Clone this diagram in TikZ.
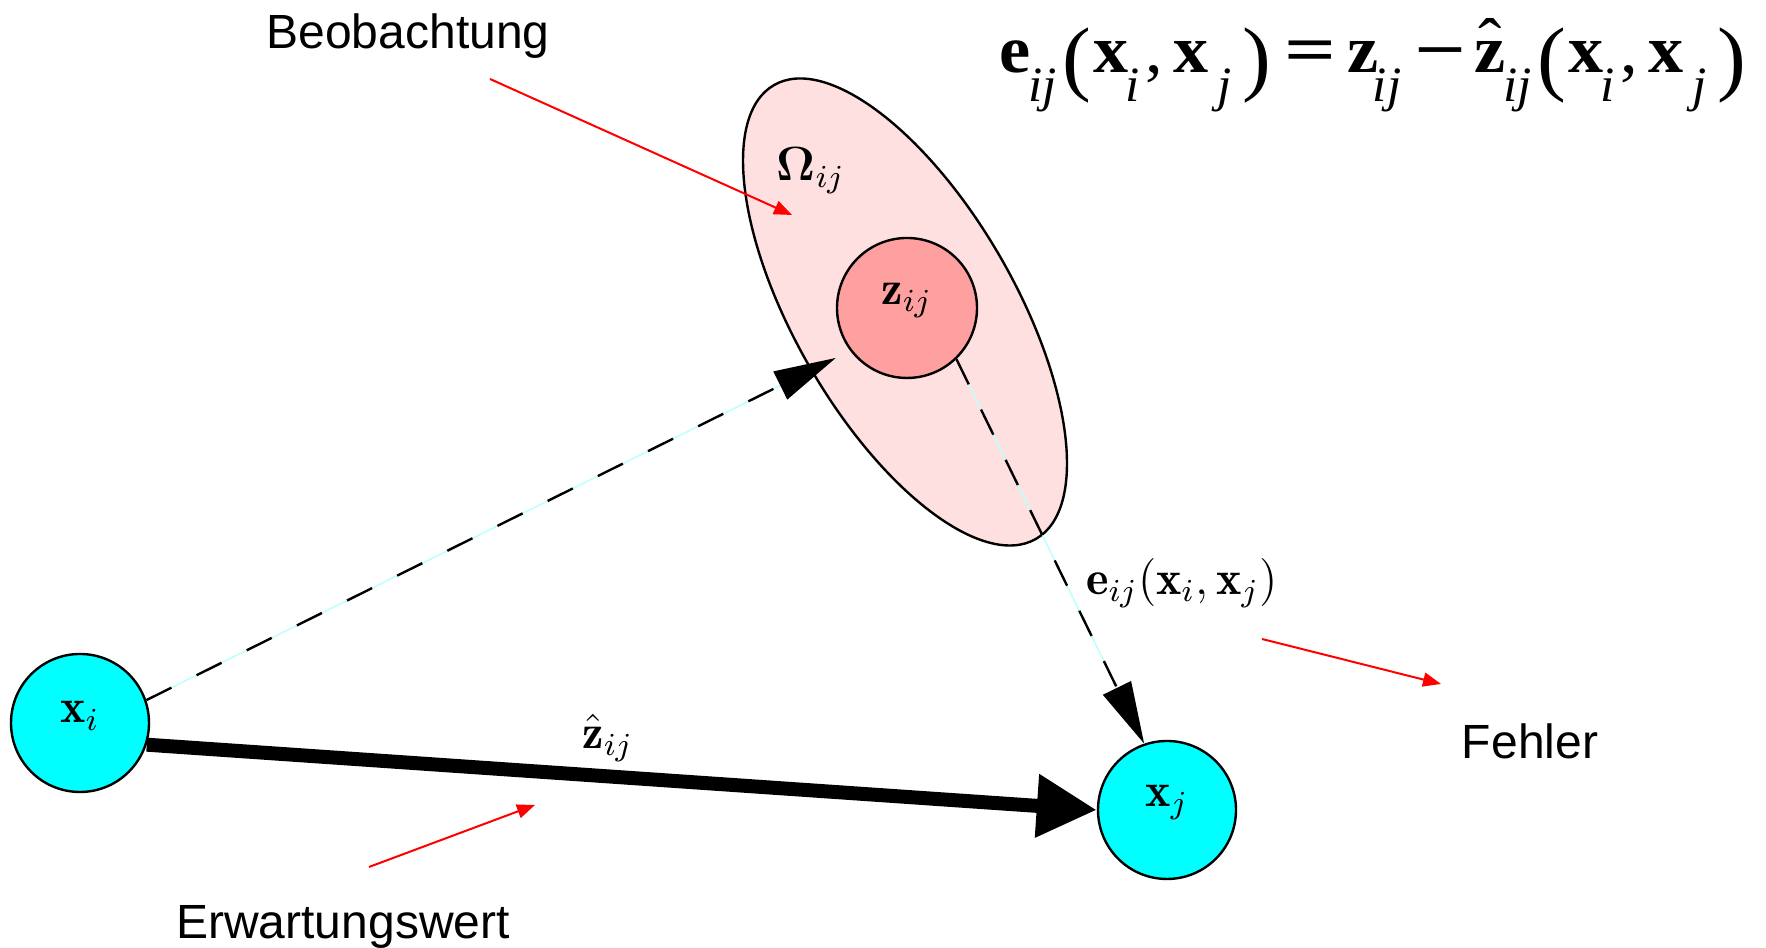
\documentclass[tikz,border=0pt]{standalone}
\usepackage{amsmath}
\usepackage{graphicx}
\usepackage{fontspec}
\usetikzlibrary{arrows.meta,shapes.geometric}
\newfontfamily\arialf{Liberation Sans}
\newfontfamily\timesf{Liberation Serif}
\definecolor{nodecyan}{RGB}{0,255,255}
\definecolor{obsred}{RGB}{255,160,160}
\definecolor{covpink}{RGB}{255,224,224}
\definecolor{lightcyan}{RGB}{190,255,255}
\newcommand{\fsub}[1]{\raisebox{-5.5pt}{\fontsize{9.5}{9.5}\selectfont\mdseries\itshape #1}}
\newcommand{\lpar}{\raisebox{-2.5pt}{\resizebox*{!}{14.5pt}{\mdseries(}}}
\newcommand{\rpar}{\raisebox{-2.5pt}{\resizebox*{!}{14.5pt}{\mdseries)}}}
\newcommand{\zhat}{\ooalign{z\cr\hidewidth\raisebox{1.5pt}{\mdseries ˆ}\hidewidth\cr}}
\newcommand{\lift}[1]{\raisebox{1.8pt}[\height][\depth]{#1}}
\tikzset{
  statenode/.style={circle,draw,line width=0.6pt,fill=nodecyan,minimum size=34.5pt,inner sep=0pt,font=\large},
  obsnode/.style={circle,draw,line width=0.6pt,fill=obsred,minimum size=35pt,inner sep=0pt,font=\large},
  covnode/.style={ellipse,draw,line width=0.6pt,fill=covpink,minimum width=131pt,minimum height=55pt,inner sep=0pt},
  dashedge/.style={-{Triangle[length=15.5pt,width=7.7pt]},line width=0.6pt,dash pattern=on 7pt off 7pt,
    preaction={draw=lightcyan,line width=0.4pt,solid,-}},
  thickedge/.style={-{Triangle[length=15pt,width=15pt]},line width=3.5pt},
  pointer/.style={red,line width=0.5pt,-{Triangle[length=4.5pt,width=3.5pt]}},
  mathlbl/.style={font=\large,inner sep=0pt},
  note/.style={font=\arialf\fontsize{12}{14}\selectfont,inner sep=0pt}
}
\begin{document}
\begin{tikzpicture}[x=0.25pt,y=0.25pt]
\useasboundingbox (0,0) rectangle (1766,948);
\node[covnode,rotate=-60] (omega) at (905,636) {};
\node[obsnode] (zij) at (907,640) {\lift{$\mathbf{z}_{ij}$}};
\node[statenode] (xi) at (80,225) {\lift{$\mathbf{x}_i$}};
\node[statenode] (xj) at (1167,138) {\lift{$\mathbf{x}_j$}};
\node[mathlbl] (omegalbl) at (811,777) {$\boldsymbol{\Omega}_{ij}$};
\node[mathlbl] (zhatlbl) at (608,210) {$\hat{\mathbf{z}}_{ij}$};
\node[mathlbl] (elbl) at (1182,365) {$\mathbf{e}_{ij}(\mathbf{x}_i,\mathbf{x}_j)$};
\draw[dashedge,shorten >=4pt] (xi.19) -- (zij.217);
\draw[dashedge] (zij.-46) -- (xj.109);
\draw[thickedge] (xi.-18) -- (xj.180);
\node[note] (obs) at (408,912) {Beobachtung};
\node[note] (expv) at (343,21) {Erwartungswert};
\node[note] (err) at (1530,207) {Fehler};
\coordinate (obsfrom) at (490,869); \coordinate (obsto) at (792,733);
\coordinate (expfrom) at (369,81); \coordinate (expto) at (535,143);
\coordinate (errfrom) at (1262,309); \coordinate (errto) at (1441,264);
\draw[pointer] (obsfrom) -- (obsto);
\draw[pointer] (expfrom) -- (expto);
\draw[pointer] (errfrom) -- (errto);
\node[anchor=base west,inner sep=0pt] (formula) at (999,875) {\resizebox{186.5pt}{1.3\height}{\timesf\fontsize{13}{13}\selectfont\bfseries
  e\kern-0.5pt\fsub{ij}\kern1pt\lpar\kern0.5pt x\kern-0.5pt\fsub{i}\kern1pt\mdseries,\bfseries\kern2pt x\kern1.5pt\fsub{j}\kern2pt\rpar\kern2.5pt\scalebox{1.3}[1]{=}\kern2pt z\kern-1pt\fsub{ij}\kern2.5pt\scalebox{1.3}[1]{−}\kern1.5pt\zhat\kern-0.5pt\fsub{ij}\kern1pt\lpar\kern0.5pt x\kern-0.5pt\fsub{i}\kern1pt\mdseries,\bfseries\kern2pt x\kern1.5pt\fsub{j}\kern2pt\rpar}};
\end{tikzpicture}
\end{document}
